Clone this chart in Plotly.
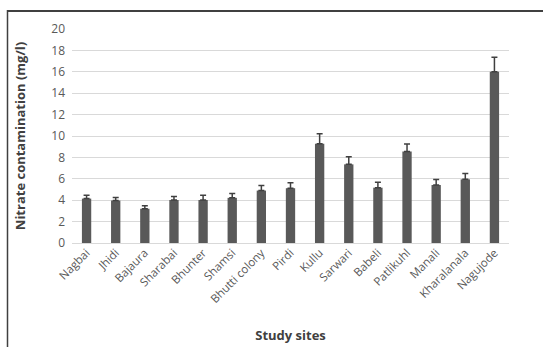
import plotly.graph_objects as go

sites = ["Nagbai", "Jhidi", "Bajaura", "Sharabai", "Bhunter", "Shamsi", "Bhutti colony",
         "Pirdi", "Kullu", "Sarwari", "Babeli", "Patlikuhl", "Manali", "Kharalanala", "Nagujode"]
nitrate = [4.15, 3.97, 3.2, 4.02, 4.02, 4.22, 4.9, 5.12, 9.28, 7.35, 5.17, 8.55, 5.42, 5.95, 16.0]
error = [0.32, 0.28, 0.27, 0.32, 0.45, 0.4, 0.47, 0.5, 0.93, 0.7, 0.5, 0.7, 0.52, 0.55, 1.37]

W, H = 543, 347
ml, mr, mt, mb = 72, 34, 29, 104
pw, ph = W - ml - mr, H - mt - mb

def px(x):
    return (x - ml) / pw

def py(y):
    return (H - mb - y) / ph

fig = go.Figure(go.Bar(
    x=sites, y=nitrate,
    marker=dict(color="#595959", line=dict(width=0)),
    error_y=dict(type="data", array=error, arrayminus=[0] * len(error), symmetric=False,
                 color="#404040", thickness=1.5, width=3),
    width=0.32,
))

font_family = "Open Sans, Liberation Sans, sans-serif"
fig.update_layout(
    width=W, height=H,
    margin=dict(l=ml, r=mr, t=mt, b=mb, autoexpand=False),
    paper_bgcolor="white", plot_bgcolor="white",
    showlegend=False,
    font=dict(family=font_family, color="#595959", size=12),
    xaxis=dict(tickangle=-45, tickfont=dict(size=11.5, color="#595959"), showgrid=False,
               showline=False, ticks="", automargin=False,
               title=dict(text="<b>Study sites</b>", font=dict(size=13, color="#404040"), standoff=25)),
    yaxis=dict(range=[0, 20], dtick=2, showgrid=True, gridcolor="#d9d9d9", gridwidth=1,
               zeroline=True, zerolinecolor="#d9d9d9", zerolinewidth=1, ticks="", automargin=False,
               ticklabelstandoff=6,
               tickfont=dict(size=12, color="#595959"),
               title=dict(text="<b>Nitrate contamination (mg/l)</b>", font=dict(size=13, color="#404040"),
                          standoff=22)),
    shapes=[
        dict(type="line", xref="paper", yref="paper", x0=px(7), x1=px(543), y0=py(11), y1=py(11),
             line=dict(color="#404040", width=2)),
        dict(type="line", xref="paper", yref="paper", x0=px(7.5), x1=px(7.5), y0=py(10), y1=py(347),
             line=dict(color="#404040", width=1.5)),
    ],
)

fig.write_html("out.html", config={"displayModeBar": False},
               post_script="document.body.style.margin='0';")
